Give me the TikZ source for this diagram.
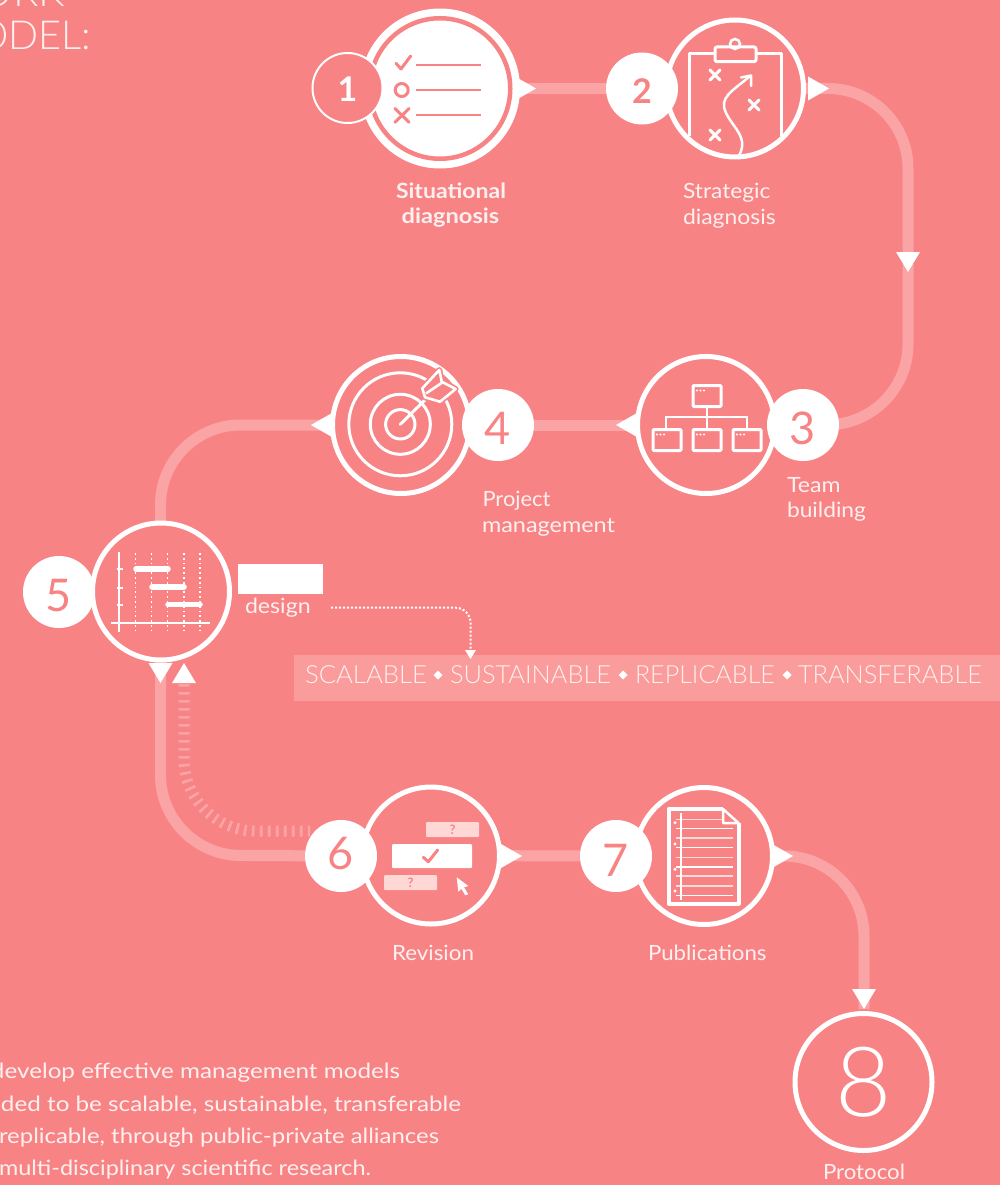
\documentclass[tikz,border=0pt]{standalone}
\usepackage{fontspec}
\usepackage{graphicx}
\usetikzlibrary{calc}
\setmainfont{Lato}
\newfontfamily\ltf{Lato Light}
\newfontfamily\bdf{Lato Bold}
\definecolor{bgc}{HTML}{F88385}
\definecolor{lnk}{HTML}{FBA4A6}
\definecolor{bandc}{HTML}{FA9B9C}
\definecolor{txt}{HTML}{FFF0F0}
\definecolor{pale}{HTML}{FFD8D6}
\pgfdeclarelayer{back}\pgfdeclarelayer{conn}
\pgfsetlayers{back,conn,main}
\newcommand{\fitw}[2]{\resizebox{#1pt}{\height}{#2}}
\newcommand{\lab}[3]{\fontsize{21}{21}\selectfont\fitw{#1}{#3}}
\newcommand{\dig}[2]{\raisebox{-#1pt}[\height][\depth]{#2}}
\tikzset{
 ring/.style={circle,draw=white,line width=5pt,minimum size=137pt,inner sep=0pt,outer sep=0pt},
 badge/.style={circle,fill=white,text=bgc,minimum size=72pt,inner sep=0pt,outer sep=0pt,font=\fontsize{45}{45}\selectfont},
 conn/.style={draw=lnk,line width=11pt,line join=round},
 dashconn/.style={draw=lnk,line width=11pt,dash pattern=on 2.6pt off 5.4pt},
 dotconn/.style={draw=white,line width=2pt,dash pattern=on 2pt off 2pt,rounded corners=15pt},
 t/.style={inner sep=0pt,outer sep=0pt,anchor=base west,text=txt},
 tc/.style={inner sep=0pt,outer sep=0pt,anchor=base,text=txt},
 ic/.style={draw=white,line width=3pt,line cap=round,line join=round},
 ics/.style={draw=bgc,line width=3pt,line cap=round,line join=round},
 thin/.style={draw=white,line width=2pt},
 lite/.style={draw=lnk!40!white,line width=1.6pt},
}
\newcommand{\tipR}[2]{\fill[white] (#1,#2) -- ++(-21,-12) -- ++(0,24) -- cycle;}
\newcommand{\tipL}[2]{\fill[white] (#1,#2) -- ++(21,-12) -- ++(0,24) -- cycle;}
\newcommand{\tipD}[2]{\fill[white] (#1,#2) -- ++(-12,-20) -- ++(24,0) -- cycle;}
\newcommand{\tipU}[2]{\fill[white] (#1,#2) -- ++(-12,20) -- ++(24,0) -- cycle;}
\newcommand{\xmark}[2]{\draw[ic] (#1-5,#2-5) -- (#1+5,#2+5) (#1-5,#2+5) -- (#1+5,#2-5);}
\newcommand{\smallbox}[2]{%
 \draw[draw=white,line width=3pt,rounded corners=1pt] (#1,#2) rectangle ++(28,21);
 \fill[white] (#1+4,#2+5) circle (1.1) (#1+7.5,#2+5) circle (1.1) (#1+11,#2+5) circle (1.1);}
\begin{document}
\begin{tikzpicture}[x=1pt,y=-1pt]
\useasboundingbox (0,0) rectangle (1000,1185);
\begin{pgfonlayer}{back}
\fill[bgc] (0,0) rectangle (1000,1185);
\end{pgfonlayer}
% circles
\node[circle,fill=white,draw=white,line width=7.5pt,minimum size=152.5pt,inner sep=0pt,outer sep=0pt] (c1) at (440,88.5) {};
\draw[draw=bgc,line width=4.5pt] (c1.center) circle (70.25);
\node[ring] (c2) at (735,88.5) {};
\node[ring] (c3) at (706,425) {};
\node[ring] (c4) at (401,425) {};
\node[ring] (c5) at (161,591.5) {};
\node[ring] (c6) at (431,855.5) {};
\node[ring] (c7) at (704,856) {};
\node[ring,font=\ltf\fontsize{97}{97}\selectfont,text=white] (c8) at (863.5,1082) {8};
% badges
\node[circle,fill=bgc,draw=white,line width=2pt,text=white,minimum size=70pt,inner sep=0pt,outer sep=0pt,font=\bdf\fontsize{34}{34}\selectfont] (b1) at (347.5,88) {\dig{1.5}{1}};
\node[badge,font=\bdf\fontsize{34}{34}\selectfont] (b2) at (642,88.5) {\dig{2.5}{2}};
\node[badge] (b3) at (803,425) {\dig{3.5}{3}};
\node[badge] (b4) at (498,425) {\dig{3.5}{4}};
\node[badge] (b5) at (59,592) {\dig{4}{5}};
\node[badge] (b6) at (341,856) {\dig{-2}{6}};
\node[badge] (b7) at (616,856) {\dig{4}{7}};
% connector ends
\coordinate (k2a) at (908,88.5);
\coordinate (k2b) at (908,424);
\coordinate (k4a) at (160.5,425);
\coordinate (k5) at (160.5,855);
\coordinate (tu) at (184,663);
\coordinate (ku) at (184,831);
\coordinate (du) at (310,831);
\coordinate (k7) at (864,856);
\coordinate (t8) at (864,1009);
\begin{pgfonlayer}{conn}
\draw[conn] (c1) -- (b2);
\draw[conn,rounded corners=80pt] (c2.east) -- (k2a) -- (k2b) -- (b3);
\draw[conn] (b4) -- (c3);
\draw[conn,rounded corners=80pt] (c4.west) -- (k4a) -- (c5.north -| k4a);
\draw[conn,rounded corners=80pt] (c5.south -| k5) -- (k5) -- (b6);
\draw[dashconn,rounded corners=72pt] ($(tu)+(0,21)$) -- (ku) -- (du);
\draw[conn] (c6) -- (b7);
\draw[conn,rounded corners=80pt] (c7.east) -- (k7) -- (t8);
\end{pgfonlayer}
% arrow tips
\tipR{536}{88.5}
\tipR{829}{88.5}
\tipD{908}{272}
\tipL{616}{425}
\tipL{311}{425}
\tipD{160.5}{683}
\tipU{184}{663}
\tipR{522}{856}
\tipR{793}{856}
\tipD{864}{1009}
% icon 1
\draw[ics] (396,63.3) -- (401,69) -- (410.7,56);
\draw[ics] (401.7,90) circle (6.5);
\draw[ics] (395,108.5) -- (409,122.3) (395,122.3) -- (409,108.5);
\draw[draw=bgc,line width=2pt] (416,65.3) -- (481.3,65.3) (416,90) -- (481.3,90) (416,115) -- (481.3,115);
% icon 2
\draw[ic,line cap=butt] (689.3,136) -- (689.3,53.5) -- (715,53.5) (756,53.5) -- (781.7,53.5) -- (781.7,136);
\draw[ic,rounded corners=2pt] (715,47) rectangle (756,61.7);
\draw[draw=white,line width=2.5pt] (735,44) circle (5);
\xmark{715}{75}\xmark{754}{105}\xmark{715}{135}
\draw[draw=white,line width=2.5pt,line cap=round] (739.3,155) .. controls (750,135) and (728,125) .. (724,107) .. controls (722,95) and (738,87) .. (750,76);
\draw[draw=white,line width=2.5pt,line cap=round,line join=round] (741,77.5) -- (751,75.5) -- (751,86);
% icon 3
\draw[thin] (706.5,408) -- (706.5,428) (666,428) -- (666,417.3) -- (746.7,417.3) -- (746.7,428);
\smallbox{693}{385.5}
\smallbox{653}{429.5}
\smallbox{693}{429.5}
\smallbox{733}{429.5}
% icon 4
\draw[ic] (400.3,424.3) circle (14.7);
\draw[ic] (400.3,424.3) circle (30);
\draw[ic] (400.3,424.3) circle (51.5);
\draw[ic] (400.3,424.3) -- (426,399);
\draw[fill=bgc,draw=bgc,line width=6pt,line join=round] (422.3,388.3) -- (439.3,370) -- (441.7,381.7) -- (455.7,389) -- (440,401.7) -- (425,397.3) -- cycle;
\draw[draw=white,line width=2.6pt,line join=round] (422.3,388.3) -- (439.3,370) -- (441.7,381.7) -- (455.7,389) -- (440,401.7) -- (425,397.3) -- cycle;
\draw[draw=white,line width=2.6pt] (426,393.5) -- (443,382);
% icon 5
\draw[thin] (119.3,551.7) -- (119.3,631.7) (110.7,622.7) -- (210,622.7);
\draw[thin] (116.7,569) -- (122.7,569) (116.7,587.7) -- (122.7,587.7) (116.7,605.3) -- (122.7,605.3);
\draw[draw=white,line width=1.5pt,dash pattern=on 1.8pt off 3pt] (135.7,553) -- (135.7,631) (151.7,553) -- (151.7,631) (167.7,553) -- (167.7,631) (184,553) -- (184,631) (200,553) -- (200,631);
\draw[draw=white,line width=5.5pt,line cap=round] (136,569) -- (168,569) (152,587) -- (184,587) (168,604.7) -- (200,604.7);
% icon 6
\node[fill=white,rounded corners=1pt,minimum width=80pt,minimum height=24pt,inner sep=0pt,outer sep=0pt] (r6) at (432,856) {};
\draw[draw=bgc,line width=3pt,line cap=round,line join=round] (423.3,857.3) -- (428.3,861.7) -- (437.7,850);
\node[fill=pale,rounded corners=1pt,minimum width=53pt,minimum height=15pt,inner sep=0pt,outer sep=0pt,text=bgc,font=\bdf\fontsize{13}{13}\selectfont] (r6a) at (452.5,829.5) {?};
\node[fill=pale,rounded corners=1pt,minimum width=53pt,minimum height=15pt,inner sep=0pt,outer sep=0pt,text=bgc,font=\bdf\fontsize{13}{13}\selectfont] (r6b) at (410.5,882.5) {?};
\fill[white] (456.7,877.3) -- (468.3,886) -- (464,887.3) -- (468.3,894.3) -- (465.3,895.3) -- (461.3,888.7) -- (458.3,891.7) -- cycle;
% icon 7
\draw[draw=white,line width=4pt,line join=round] (723,809) -- (668.5,809) -- (668.5,903.5) -- (738.5,903.5) -- (738.5,823);
\draw[draw=white,line width=2.5pt,line join=round] (723,809) -- (738.5,823) -- (723,823) -- cycle;
\draw[lite] (676,819.3) -- (722,819.3) (676,838) -- (733.3,838) (676,857.3) -- (733.3,857.3) (676,876) -- (733.3,876) (676,885.7) -- (733.3,885.7);
\draw[draw=white,line width=1.6pt] (676,828.3) -- (733.3,828.3) (676,847.3) -- (733.3,847.3) (676,866.7) -- (733.3,866.7) (676,895.3) -- (733.3,895.3);
\draw[draw=white,line width=1.3pt] (681,813) -- (681,900);
\fill[white] (675,822.7) circle (1.7) (675,844) circle (1.7) (675,869.3) circle (1.7) (675,891) circle (1.7);
% band
\begin{pgfonlayer}{conn}
\fill[bandc] (294,655) rectangle (1000,701);
\end{pgfonlayer}
\node[t,font=\ltf\fontsize{25}{25}\selectfont] (w1) at (305,683) {\fitw{122}{SCALABLE}};
\node[t,font=\ltf\fontsize{25}{25}\selectfont] (w2) at (450,683) {\fitw{161}{SUSTAINABLE}};
\node[t,font=\ltf\fontsize{25}{25}\selectfont] (w3) at (635,683) {\fitw{140}{REPLICABLE}};
\node[t,font=\ltf\fontsize{25}{25}\selectfont] (w4) at (798,683) {\fitw{184}{TRANSFERABLE}};
\foreach \dx in {438,623,787}{\fill[white] (\dx-4.5,675) -- (\dx,670.5) -- (\dx+4.5,675) -- (\dx,679.5) -- cycle;}
% design
\node[fill=white,minimum width=85pt,minimum height=30pt,inner sep=0pt,outer sep=0pt] (r5) at (280.5,579) {};
\node[t] (l5) at (245,613) {\lab{65.7}{}{design}};
\coordinate (ds) at (331,607.7);
\coordinate (dk) at (470.5,607.7);
\coordinate (de) at (470.5,650);
\draw[dotconn] (ds) -- (dk) -- (de);
\fill[white] (470.5,659) -- ++(-5.5,-9) -- ++(11,0) -- cycle;
% labels
\node[tc,font=\bdf\fontsize{21}{21}\selectfont] (l1a) at (451,198) {\fitw{110}{Situational}};
\node[tc,font=\bdf\fontsize{21}{21}\selectfont] (l1b) at (450.5,224) {\fitw{97.6}{diagnosis}};
\node[t] (l2a) at (683,198) {\lab{87.5}{}{Strategic}};
\node[t] (l2b) at (683,224) {\lab{92.7}{}{diagnosis}};
\node[t] (l3a) at (787,492) {\lab{53.5}{}{Team}};
\node[t] (l3b) at (787,517) {\lab{79}{}{building}};
\node[t] (l4a) at (482.5,506) {\lab{68}{}{Project}};
\node[t] (l4b) at (482,532) {\lab{133}{}{management}};
\node[tc] (l6) at (433,960) {\lab{82}{}{Revision}};
\node[tc] (l7) at (707.3,960) {\lab{118.5}{}{Publications}};
\node[tc] (l8) at (864,1179) {\lab{82}{}{Protocol}};
% clipped texts
\node[t,font=\ltf\fontsize{40}{40}\selectfont] (h1) at (-20,7) {\fitw{85}{ORK}};
\node[t,font=\ltf\fontsize{40}{40}\selectfont] (h2) at (-23,49.5) {\fitw{114}{ODEL:}};
\node[t] (p1) at (-9,1078) {\lab{409}{}{develop effective management models}};
\node[t] (p2) at (1,1111) {\lab{460}{}{ded to be scalable, sustainable, transferable}};
\node[t] (p3) at (-1,1143) {\lab{440}{}{replicable, through public-private alliances}};
\node[t] (p4) at (-1,1175.5) {\lab{372}{}{multi-disciplinary scientific research.}};
\end{tikzpicture}
\end{document}
